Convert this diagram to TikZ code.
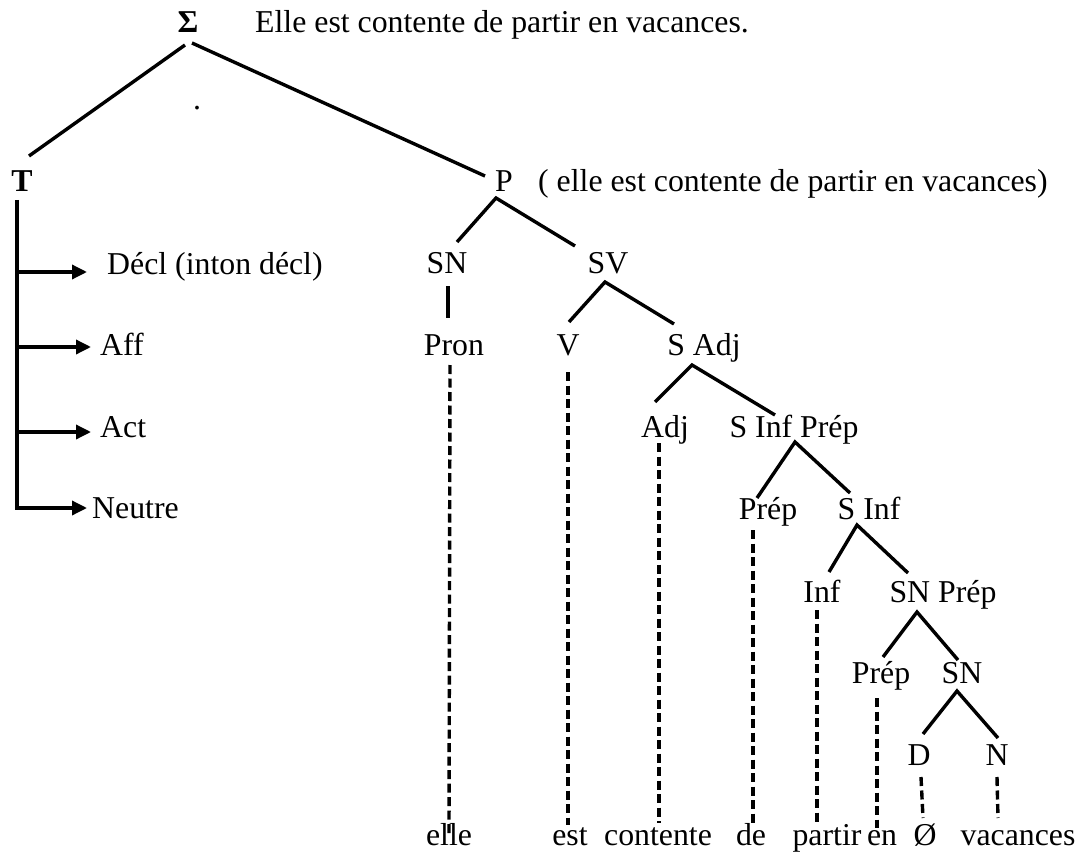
\documentclass[tikz,border=0pt]{standalone}
\usepackage{fontspec}
\setmainfont{Liberation Serif}
\usetikzlibrary{calc,arrows.meta}
\begin{document}
\begin{tikzpicture}[x=1pt,y=-1pt,
  lbl/.style={inner sep=0pt, anchor=base, font=\fontsize{31.8}{36}\selectfont},
  lblw/.style={lbl, anchor=base west},
  branch/.style={line width=3.4pt},
  leafline/.style={line width=3.4pt, dash pattern=on 9pt off 4.5pt},
  arr/.style={line width=3.4pt, -{Triangle[length=15pt,width=14pt]}}]
\useasboundingbox (0,0) rectangle (1085,856);
% top
\node[lbl] (S) at (188,33) {\textbf{Σ}};
\node[lblw] (title) at (255,33) {Elle est contente de partir en vacances.};
\node[lbl] (dot) at (197,110) {.};
\node[lbl] (T) at (22,192) {\textbf{T}};
\node[lbl] (P) at (504,192) {P};
\node[lblw] (Ptext) at (538,192) {( elle est contente de partir en vacances)};
% T branch
\node[lblw] (Decl) at (107,274) {Décl (inton décl)};
\node[lblw] (Aff) at (100,355) {Aff};
\node[lblw] (Act) at (100,437) {Act};
\node[lblw] (Neutre) at (92,518) {Neutre};
% tree
\node[lbl] (SN1) at (447,273) {SN};
\node[lbl] (SV) at (608,273) {SV};
\node[lbl] (Pron) at (454,355) {Pron};
\node[lbl] (V) at (568,355) {V};
\node[lbl] (SAdj) at (704,355) {S Adj};
\node[lbl] (Adj) at (665,437) {Adj};
\node[lbl] (SInfPrep) at (794,437) {S Inf Prép};
\node[lbl] (Prep1) at (768,519) {Prép};
\node[lbl] (SInf) at (869,519) {S Inf};
\node[lbl] (Inf) at (822,602) {Inf};
\node[lbl] (SNPrep) at (943,602) {SN Prép};
\node[lbl] (Prep2) at (881,683) {Prép};
\node[lbl] (SN2) at (962,683) {SN};
\node[lbl] (D) at (919,765) {D};
\node[lbl] (N) at (997,765) {N};
% leaves
\node[lbl] (w1) at (449,845) {elle};
\node[lbl] (w2) at (570,845) {est};
\node[lbl] (w3) at (658,845) {contente};
\node[lbl] (w4) at (751,845) {de};
\node[lbl] (w5) at (827,845) {partir};
\node[lbl] (w6) at (882,845) {en};
\node[lbl] (w7) at (925,845) {Ø};
\node[lbl] (w8) at (1018,845) {vacances};
% branches
\draw[branch] ($(S.base)+(-3,12)$) -- ($(T.base)+(7,-36)$);
\draw[branch] ($(S.base)+(4,10)$) -- ($(P.base)+(-19,-16)$);
\draw[branch] ($(SN1.base)+(10,-31)$) -- ($(P.base)+(-8,6)$) -- ($(SV.base)+(-33,-27)$);
\draw[branch] ($(SN1.base)+(1,13)$) -- ($(Pron.base)+(-6,-37)$);
\draw[branch] ($(V.base)+(1,-33)$) -- ($(SV.base)+(-3,9)$) -- ($(SAdj.base)+(-30,-31)$);
\draw[branch] ($(Adj.base)+(-10,-35)$) -- ($(SAdj.base)+(-12,10)$) -- ($(SInfPrep.base)+(-19,-22)$);
\draw[branch] ($(Prep1.base)+(-11,-21)$) -- ($(SInfPrep.base)+(1,5)$) -- ($(SInf.base)+(-19,-26)$);
\draw[branch] ($(Inf.base)+(7,-30)$) -- ($(SInf.base)+(-12,6)$) -- ($(SNPrep.base)+(-35,-29)$);
\draw[branch] ($(Prep2.base)+(2,-26)$) -- ($(SNPrep.base)+(-26,10)$) -- ($(SN2.base)+(-4,-23)$);
\draw[branch] ($(D.base)+(4,-31)$) -- ($(SN2.base)+(-5,8)$) -- ($(N.base)+(1,-27)$);
% dashed leaf lines
\draw[leafline] ($(Pron.base)+(-4,10)$) -- ($(w1.base)+(0,-12)$);
\draw[leafline] ($(V.base)+(0,17)$) -- ($(w2.base)+(-2,-20)$);
\draw[leafline] ($(Adj.base)+(-6,6)$) -- ($(w3.base)+(1,-22)$);
\draw[leafline] ($(Prep1.base)+(-15,11)$) -- ($(w4.base)+(2,-22)$);
\draw[leafline] ($(Inf.base)+(-5,8)$) -- ($(w5.base)+(-10,-23)$);
\draw[leafline] ($(Prep2.base)+(-4,15)$) -- ($(w6.base)+(-5,-17)$);
\draw[leafline] ($(D.base)+(2,12)$) -- ($(w7.base)+(-2,-27)$);
\draw[leafline] ($(N.base)+(0,12)$) -- ($(w8.base)+(-20,-27)$);
% T arrows
\draw[arr] ($(T.base)+(-5,8)$) |- ($(Neutre.base west)+(-5,-10)$);
\coordinate (tD) at (17,272);
\coordinate (tAff) at (17,347);
\coordinate (tAct) at (17,432);
\draw[arr] (tD) -- ($(Decl.base west)+(-20,-2)$);
\draw[arr] (tAff) -- ($(Aff.base west)+(-9,-8)$);
\draw[arr] (tAct) -- ($(Act.base west)+(-9,-5)$);
\end{tikzpicture}
\end{document}
